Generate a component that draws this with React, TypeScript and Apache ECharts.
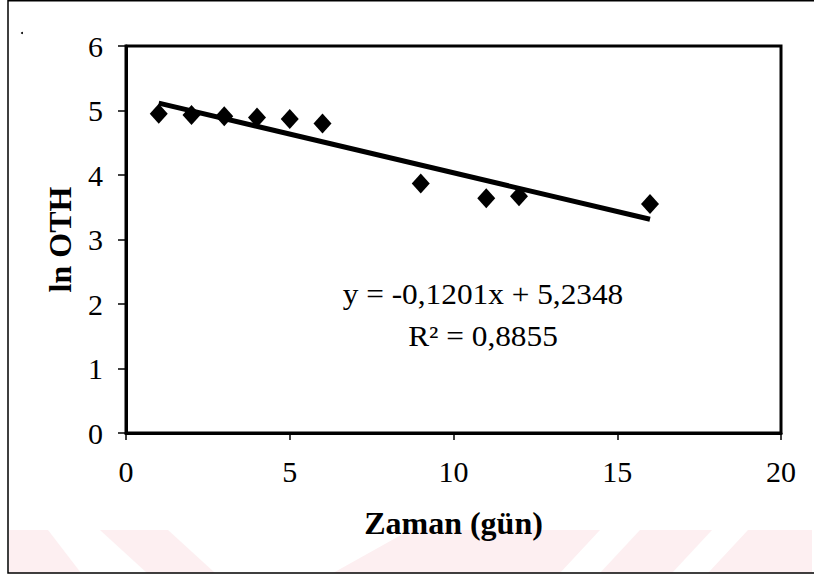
import React, { useEffect, useRef } from "react";
import * as echarts from "echarts";

const days = [1, 2, 3, 4, 5, 6, 9, 11, 12, 16];
const lnOTH = [4.95, 4.93, 4.91, 4.89, 4.87, 4.80, 3.87, 3.64, 3.67, 3.55];
const slope = -0.1201;
const intercept = 5.2348;
const trendRange = [1, 16];
const xTicks = { min: 0, max: 20, interval: 5 };
const yTicks = { min: 0, max: 6, interval: 1 };
const equationText = "y = -0,1201x + 5,2348";
const r2Text = "R² = 0,8855";
const xName = "Zaman (gün)";
const yName = "ln OTH";

const FONT = "'Liberation Serif', 'Times New Roman', serif";
const PINK = "#fdeff1";

export default function App() {
  const ref = useRef<HTMLDivElement>(null);
  useEffect(() => {
    if (!ref.current) return;
    const chart = echarts.init(ref.current, undefined, { renderer: "svg" });
    const points = days.map((d, i) => [d, lnOTH[i]]);
    const trend = trendRange.map((x) => [x, slope * x + intercept]);
    const top = 530;
    const bot = 573;
    const stripes: number[][][] = [
      [[9, top], [48, top], [81, bot], [9, bot]],
      [[100, top], [168, top], [215, bot], [147, bot]],
      [[410, top], [600, top], [560, bot], [333, bot]],
      [[640, top], [712, top], [672, bot], [600, bot]],
      [[748, top], [812, top], [812, bot], [708, bot]],
    ];
    chart.setOption({
      animation: false,
      backgroundColor: "#fff",
      grid: {
        left: 126,
        right: 33,
        top: 46,
        bottom: 143,
        show: true,
        borderColor: "#000",
        borderWidth: 3,
        backgroundColor: "transparent",
      },
      xAxis: {
        type: "value",
        min: xTicks.min,
        max: xTicks.max,
        interval: xTicks.interval,
        axisLine: { show: true, onZero: false, lineStyle: { color: "#000", width: 3 } },
        axisTick: { show: true, inside: false, length: 7, lineStyle: { color: "#000", width: 1.5 } },
        axisLabel: { color: "#000", fontFamily: FONT, fontSize: 30, margin: 23 },
        splitLine: { show: false },
        name: xName,
        nameLocation: "middle",
        nameGap: 74,
        nameTextStyle: { color: "#000", fontFamily: FONT, fontSize: 32, fontWeight: "bold" },
      },
      yAxis: {
        type: "value",
        min: yTicks.min,
        max: yTicks.max,
        interval: yTicks.interval,
        axisLine: { show: true, onZero: false, lineStyle: { color: "#000", width: 3 } },
        axisTick: { show: true, inside: false, length: 8, lineStyle: { color: "#000", width: 1.5 } },
        axisLabel: { color: "#000", fontFamily: FONT, fontSize: 30, margin: 23 },
        splitLine: { show: false },
        name: yName,
        nameLocation: "middle",
        nameGap: 50,
        nameTextStyle: { color: "#000", fontFamily: FONT, fontSize: 32, fontWeight: "bold" },
      },
      series: [
        {
          type: "line",
          data: trend,
          showSymbol: false,
          symbol: "none",
          lineStyle: { color: "#000", width: 5 },
          z: 2,
        },
        {
          type: "scatter",
          data: points,
          symbol: "diamond",
          symbolSize: [18, 20],
          itemStyle: { color: "#000", opacity: 1 },
          z: 3,
        },
      ],
      graphic: [
        ...stripes.map((pts) => ({
          type: "polygon",
          shape: { points: pts },
          style: { fill: PINK },
          z: -10,
          silent: true,
        })),
        {
          type: "polyline",
          shape: { points: [[8, 0], [8, 573], [814, 573]] },
          style: { stroke: "#000", lineWidth: 1.5, fill: null },
          silent: true,
        },
        {
          type: "line",
          shape: { x1: 8, y1: 0.75, x2: 814, y2: 0.75 },
          style: { stroke: "#000", lineWidth: 1.5 },
          silent: true,
        },
        {
          type: "circle",
          shape: { cx: 22, cy: 33, r: 1 },
          style: { fill: "#000" },
          silent: true,
        },
        {
          type: "text",
          x: 483,
          y: 294,
          scaleX: 1.08,
          style: {
            text: equationText,
            fontFamily: FONT,
            fontSize: 29,
            fill: "#000",
            textAlign: "center",
            textVerticalAlign: "middle",
          },
        },
        {
          type: "text",
          x: 483,
          y: 336,
          scaleX: 1.08,
          style: {
            text: r2Text,
            fontFamily: FONT,
            fontSize: 29,
            fill: "#000",
            textAlign: "center",
            textVerticalAlign: "middle",
          },
        },
      ],
    });
    return () => chart.dispose();
  }, []);
  return (
    <div
      ref={ref}
      style={{ position: "fixed", left: 0, top: 0, width: 814, height: 576, background: "#fff" }}
    />
  );
}
